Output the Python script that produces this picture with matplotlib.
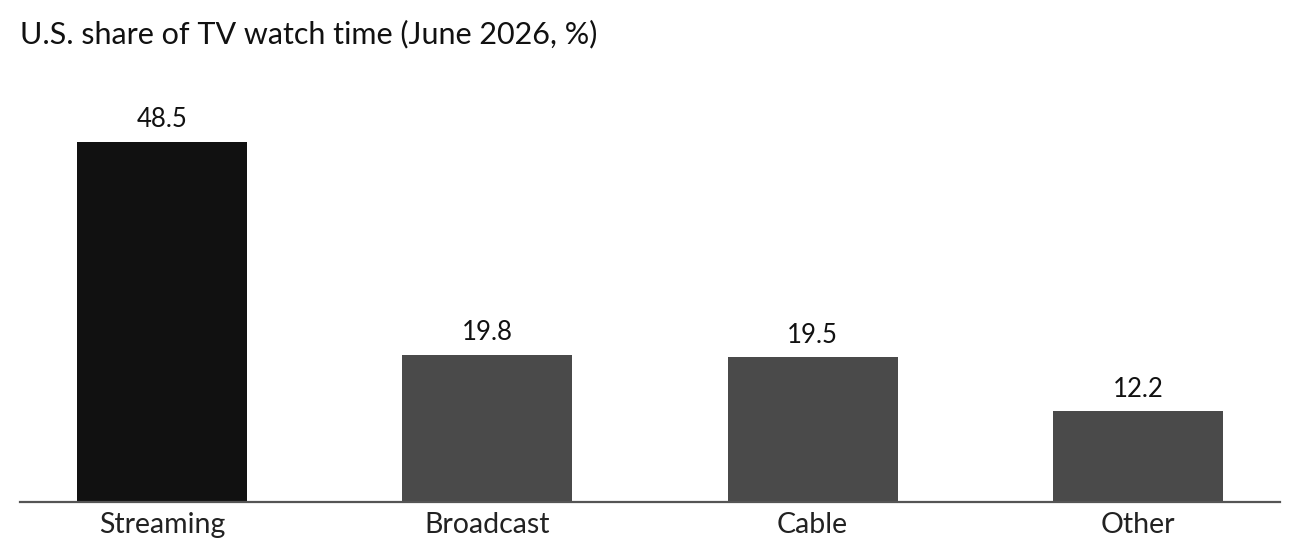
import matplotlib
matplotlib.use("Agg")
import matplotlib.pyplot as plt

# Data
categories = ["Streaming", "Broadcast", "Cable", "Other"]
shares = [48.5, 19.8, 19.5, 12.2]
title = "U.S. share of TV watch time (June 2026, %)"

bar_colors = ["#111111", "#4a4a4a", "#4a4a4a", "#4a4a4a"]

plt.rcParams["font.family"] = ["Lato", "DejaVu Sans"]


def main():
    fig = plt.figure(figsize=(13, 5.6), dpi=100)
    # axes: left 20px, right 1280px, baseline at y=502px, top at y=80px
    ax = fig.add_axes([20 / 1300, 1 - 502 / 560, 1260 / 1300, 422 / 560])

    x = range(len(categories))
    bars = ax.bar(x, shares, width=0.523, color=bar_colors)

    for rect, v in zip(bars, shares):
        ax.annotate(
            f"{v:.1f}",
            (rect.get_x() + rect.get_width() / 2, rect.get_height()),
            xytext=(0, 7),
            textcoords="offset points",
            ha="center",
            va="bottom",
            fontsize=18.5,
            color="#111111",
        )

    ax.set_xlim(-0.437, 3.437)
    ax.set_ylim(0, 422 / 7.42)
    ax.set_xticks(list(x))
    ax.set_xticklabels(categories, fontsize=20.5, color="#222222")
    ax.tick_params(axis="x", length=0, pad=7)
    ax.set_yticks([])
    for side in ["top", "right", "left"]:
        ax.spines[side].set_visible(False)
    ax.spines["bottom"].set_color("#555555")
    ax.spines["bottom"].set_linewidth(1.6)

    fig.text(20 / 1300, 1 - 34 / 560, title, fontsize=22, color="#111111", ha="left", va="center")

    fig.savefig("out.png", dpi=100)


if __name__ == "__main__":
    main()
